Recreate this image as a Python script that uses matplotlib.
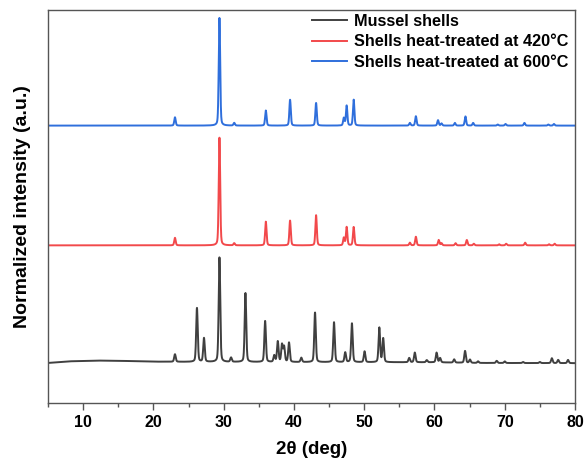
import matplotlib.pyplot as plt
import numpy as np

# %% Data: peak positions (deg) and relative heights

shell_pos = [23.07, 26.2, 27.2, 29.4, 31.05, 33.1, 35.9, 37.2, 37.7, 38.3, 38.6, 39.3,
             41.05, 43.0, 45.7, 47.3, 48.25, 50.05, 52.15, 52.7, 56.4, 57.2, 58.9,
             60.3, 60.8, 62.8, 64.35, 65.05, 66.2, 68.85, 70.0, 72.6, 75.0, 76.7, 77.6, 79.0]
shell_h = [0.07, 0.5, 0.22, 0.97, 0.04, 0.64, 0.38, 0.06, 0.19, 0.16, 0.14, 0.18,
           0.04, 0.46, 0.37, 0.09, 0.36, 0.1, 0.32, 0.22, 0.04, 0.09, 0.02,
           0.09, 0.04, 0.03, 0.11, 0.03, 0.015, 0.02, 0.015, 0.01, 0.01, 0.045, 0.03, 0.03]
# broad background hump of the raw shells
shell_bg_x = [5, 8, 12, 15, 20, 25, 40, 60, 66, 80]
shell_bg_y = [0.0, 0.015, 0.022, 0.02, 0.012, 0.01, 0.008, 0.006, 0.0, -0.002]

s420_pos = [23.07, 29.4, 31.5, 36.0, 39.45, 43.15, 47.1, 47.5, 48.5, 56.5, 57.35,
            60.6, 61.0, 63.0, 64.6, 65.6, 69.2, 70.2, 72.9, 76.3, 77.1]
s420_h = [0.07, 1.0, 0.02, 0.22, 0.23, 0.28, 0.07, 0.17, 0.17, 0.025, 0.08,
          0.05, 0.02, 0.02, 0.05, 0.015, 0.01, 0.015, 0.025, 0.01, 0.015]

s600_pos = [23.07, 29.4, 31.5, 36.0, 39.45, 43.15, 47.1, 47.5, 48.5, 56.5, 57.35,
            60.5, 61.0, 62.9, 64.4, 65.5, 69.0, 70.1, 72.8, 76.2, 77.0]
s600_h = [0.077, 1.0, 0.025, 0.14, 0.24, 0.21, 0.07, 0.185, 0.24, 0.025, 0.087,
          0.05, 0.02, 0.025, 0.085, 0.025, 0.01, 0.015, 0.025, 0.01, 0.015]

offsets = [0.0, 1.09, 2.2]
labels = ['Mussel shells', 'Shells heat-treated at 420°C', 'Shells heat-treated at 600°C']
colors = ['#404040', '#f2494b', '#2f6fdc']

# %% Build profiles (pseudo-Voigt peaks)

tt = np.linspace(5, 80, 4001)


def pattern(pos, h, w):
    y = np.zeros_like(tt)
    for p, a in zip(pos, h):
        d = (tt - p) / w
        y += a * (0.7 * np.exp(-np.log(2) * d ** 2) + 0.3 / (1 + d ** 2))
    return y


y_shell = pattern(shell_pos, shell_h, 0.13) + np.interp(tt, shell_bg_x, shell_bg_y)
y_420 = pattern(s420_pos, s420_h, 0.12)
y_600 = pattern(s600_pos, s600_h, 0.12)

# %% Plot

plt.rcParams['font.family'] = ['Liberation Sans', 'DejaVu Sans']
plt.rcParams['font.weight'] = 'bold'

fig = plt.figure(figsize=(5.85, 4.62), dpi=100)
ax = fig.add_axes([0.082, 0.128, 0.901, 0.85])

for y, off, lab, c in zip([y_shell, y_420, y_600], offsets, labels, colors):
    ax.plot(tt, y + off, color=c, lw=1.4, label=lab)

ax.set_xlim(5, 80)
ax.set_ylim(-0.37, 3.27)
ax.set_xticks(np.arange(10, 81, 10))
ax.set_xticks(np.arange(5, 81, 5), minor=True)
ax.set_yticks([])
ax.tick_params(axis='x', which='major', direction='out', length=5, width=1, labelsize=11.5, color='#555555')
ax.tick_params(axis='x', which='minor', direction='out', length=3, width=1, color='#555555')
for sp in ax.spines.values():
    sp.set_color('#555555')
    sp.set_linewidth(1.0)
for t in ax.get_xticklabels():
    t.set_fontweight('bold')

ax.set_xlabel('2θ (deg)', fontsize=13.5, fontweight='bold', labelpad=8)
ax.set_ylabel('Normalized intensity (a.u.)', fontsize=14, fontweight='bold', labelpad=12)

leg = ax.legend(loc='upper right', bbox_to_anchor=(0.999, 1.008), frameon=False,
                fontsize=11.7, handlelength=2.15, handletextpad=0.4,
                labelspacing=0.35, borderaxespad=0.0)
for t in leg.get_texts():
    t.set_fontweight('bold')

fig.savefig('out.png', dpi=100)
